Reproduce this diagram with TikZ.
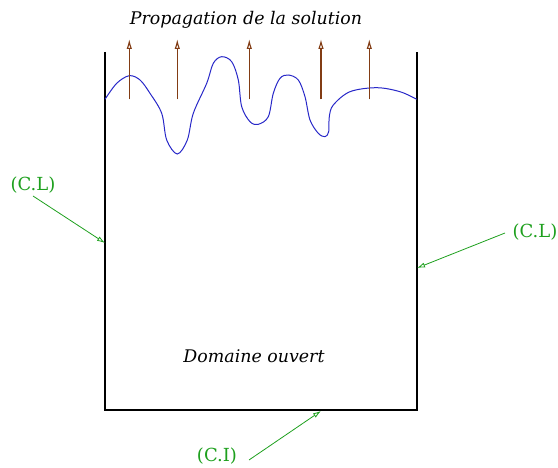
\documentclass[tikz,border=0pt]{standalone}
\usepackage{fontspec}
\setmainfont{DejaVu Serif}
\usetikzlibrary{arrows.meta}
\definecolor{brownarr}{RGB}{130,60,20}
\definecolor{greenlbl}{RGB}{30,160,30}
\definecolor{wave}{RGB}{40,40,200}
\begin{document}
\begin{tikzpicture}[x=1pt,y=-1pt,
  txt/.style={font=\fontsize{17.4}{21}\selectfont\itshape, inner sep=0pt},
  glbl/.style={font=\fontsize{18}{22}\selectfont, text=greenlbl, inner sep=0pt},
  garrow/.style={draw=greenlbl, line width=0.8pt, -{Latex[open,length=8pt,width=5pt]}},
  barrow/.style={draw=brownarr, line width=1.1pt, -{Latex[open,length=10pt,width=5.5pt]}},
  boxline/.style={draw=black, line width=1.1pt}]
\useasboundingbox (0,0) rectangle (558,468);
% open box
\draw[boxline] (105,52) -- (105,410) -- (417,410) -- (417,52);
% wave front
\draw[wave, line width=1pt] plot[smooth, tension=0.55] coordinates {
(105,99.3) (116.7,83.3) (129.3,75.7) (140,80) (150,93.3) (161.7,113.3) (166.7,140) (177.3,154)
(187.3,140) (193.3,113.3) (206.7,83.3) (213.3,63.3) (221.7,56.7) (231.7,61.7) (238.3,80)
(241.7,106.7) (250,121.7) (258.3,124.3) (268.3,116.7) (273.3,93.3) (280,78.3) (288.3,75)
(298.3,80) (305,96.7) (310,120) (318.3,133.3) (325,136.7) (328.7,131.7) (329.3,116.7)
(333.3,105) (350,91.7) (376.7,87.7) (400,91.7) (416.7,99.3)};
% propagation arrows
\foreach \x [count=\i] in {129.3,177.3,249.3,321,369.3} {
  \coordinate (b\i) at (\x,99.5);
  \coordinate (t\i) at (\x,39);
  \draw[barrow] (b\i) -- (t\i);
}
% texts
\node[txt] (title) at (246,20) {Propagation de la solution};
\node[txt] (dom) at (254,356) {Domaine ouvert};
% labels
\node[glbl] (cll) at (33,185) {(C.L)};
\node[glbl] (clr) at (535,232) {(C.L)};
\node[glbl] (ci) at (217,456) {(C.I)};
\coordinate (pl) at (105,243);
\coordinate (pr) at (417,268);
\coordinate (pb) at (321,411);
\coordinate (sl) at (33,196);
\coordinate (sr) at (505,233);
\coordinate (sb) at (249,460);
\draw[garrow] (sl) -- (pl);
\draw[garrow] (sr) -- (pr);
\draw[garrow] (sb) -- (pb);
\end{tikzpicture}
\end{document}
